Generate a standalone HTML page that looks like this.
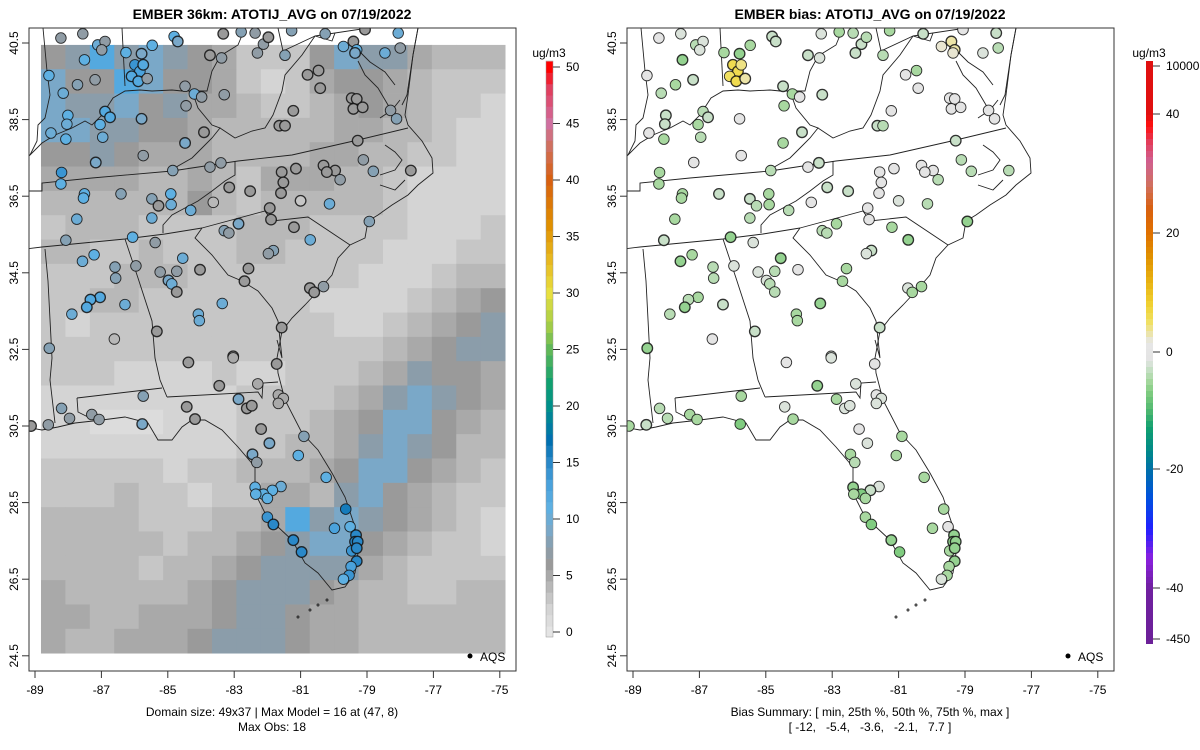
<!DOCTYPE html>
<html><head><meta charset="utf-8"><style>
html,body{margin:0;padding:0;background:#fff;}
svg{display:block;font-family:"Liberation Sans",sans-serif;}
</style></head><body>
<svg id="chart" width="1200" height="750" viewBox="0 0 1200 750">
<defs>
<clipPath id="clipL"><rect x="29" y="28" width="487" height="643"/></clipPath>
<clipPath id="clipR"><rect x="627" y="28" width="487" height="643"/></clipPath>
</defs>
<rect width="1200" height="750" fill="#fff"/>
<g id="panelL"></g>
<g id="panelR"></g>
</svg>
<script>
// ---------- data ----------
const gridRows = [
"6797876533368775444","8669866532356654333","8778675543345654332","8877665444445544322",
"6676555444455443322","5555445435554432222","4444446434444432222","3444333344433332223",
"4433433344333322233","3334443333333222344","3344333333322223456","3233333333332234567",
"3333333333333345677","3332222322333457665","2222222233334578765","2211122233345688654",
"2222222233445787644","3333323344456886543","3334332335547865433","4444333445978765432",
"4444434456788654332","4444344567777543333","5444445677765443344","5544555677655444444",
"5445556777655444444"];
const levelValues = [0,1,2,3,4,5,6,7.5,9,12];
const xTicks = [-89,-87,-85,-83,-81,-79,-77,-75];
const yTicks = [40.5,38.5,36.5,34.5,32.5,30.5,28.5,26.5,24.5];
const obsTicks = [0,5,10,15,20,25,30,35,40,45,50];
const biasTickLabels = ["10000","40","20","0","-20","-40","-450"];
const biasTickVals = [10000,40,20,0,-20,-40,-450];
const siteLon = [-88.22,-87.56,-87.11,-86.89,-86.99,-87.51,-86.26,-85.79,-85.47,-84.81,-84.70,-85.99,-85.84,-86.09,-85.89,-85.62,-85.74,-88.58,-87.72,-87.19,-88.15,-88.01,-88.04,-86.89,-86.74,-87.04,-88.52,-88.07,-86.96,-85.79,-84.48,-84.20,-83.98,-84.45,-83.30,-83.73,-83.38,-83.33,-82.79,-82.37,-82.12,-82.30,-81.97,-81.47,-81.27,-80.26,-80.79,-80.46,-80.41,-81.22,-81.64,-81.47,-79.41,-79.31,-79.36,-79.71,-79.06,-78.46,-78.00,-78.06,-79.46,-79.31,-79.41,-79.13,-78.29,-78.11,-83.91,-84.48,-85.74,-87.17,-88.20,-88.22,-87.51,-87.54,-86.41,-84.85,-83.73,-83.40,-79.28,-79.11,-78.81,-77.68,-81.57,-81.14,-81.52,-80.31,-79.96,-79.81,-80.21,-81.59,-81.00,-80.13,-82.52,-83.15,-83.63,-84.91,-84.90,-85.48,-85.28,-84.31,-85.48,-87.74,-86.06,-85.38,-88.07,-81.93,-81.89,-83.30,-83.16,-82.87,-81.20,-80.71,-81.82,-81.97,-78.93,-87.22,-87.57,-86.59,-86.57,-85.96,-84.55,-84.73,-85.23,-84.98,-84.88,-84.73,-84.03,-82.57,-82.69,-80.72,-80.59,-80.31,-87.04,-87.33,-87.44,-87.89,-86.29,-84.08,-84.05,-83.36,-81.57,-86.61,-85.33,-88.57,-83.03,
-84.38,-83.03,-81.72,-83.45,-82.29,-81.67,-81.52,-81.67,-85.74,-82.87,-82.62,-82.47,-84.43,-88.20,-87.96,-87.29,-87.07,-88.60,-89.12,-85.77,-84.18,-82.19,-81.94,-82.45,-82.32,-80.90,-81.07,-80.23,-81.59,-81.85,-82.37,-82.12,-82.35,-82.00,-82.00,-81.82,-81.22,-80.97,-79.64,-79.98,-79.51,-79.33,-79.36,-79.28,-79.46,-79.31,-79.31,-79.48,-79.54,-79.71];
const siteLat = [40.63,40.74,40.45,40.54,40.32,40.06,40.25,40.22,40.44,40.67,40.54,39.93,39.76,39.63,39.50,39.57,39.93,39.65,39.41,39.54,39.19,38.61,38.38,38.71,38.56,38.37,38.15,37.99,38.04,38.52,39.37,39.17,39.09,38.86,39.15,40.18,40.11,40.74,40.79,40.76,40.47,40.24,40.65,40.18,40.82,40.74,39.67,39.78,39.32,38.73,38.34,38.34,40.54,40.32,40.24,40.41,40.85,40.24,40.37,40.76,39.06,39.04,38.78,38.82,38.74,38.52,38.17,37.89,37.56,37.38,37.12,36.82,36.56,36.45,36.56,37.17,37.26,37.37,37.95,37.45,37.15,37.17,37.13,37.22,36.86,37.30,37.17,36.93,37.13,36.58,36.38,36.30,36.63,36.73,36.34,36.56,36.28,36.43,36.25,36.13,35.93,35.90,35.43,35.29,35.35,36.19,35.89,35.60,35.54,35.78,35.69,35.36,35.08,35.00,35.84,34.97,34.80,34.65,34.36,34.68,34.88,34.54,34.52,34.30,34.21,34.00,34.58,34.61,34.28,34.10,33.99,34.14,33.86,33.80,33.60,33.42,33.67,33.42,33.25,33.70,33.07,32.77,32.97,32.53,32.32,
32.16,32.28,32.12,31.55,31.60,31.31,31.22,31.09,31.28,31.20,30.96,31.03,31.00,30.96,30.70,30.80,30.67,30.53,30.50,30.55,30.68,30.42,30.05,29.76,29.55,30.23,29.73,29.16,28.92,28.82,28.90,28.72,28.72,28.61,28.12,27.93,27.52,27.21,28.33,27.83,27.87,27.65,27.48,27.48,27.24,27.31,26.97,26.83,26.60,26.50];
const siteObs = [7,7,10,7,7,11,11,9,11,11,9,14,13,12,12,7,12,11,8,7,10,11,10,12,12,11,10,11,10,9,7,10,7,7,7,6,7,6,8,7,7,7,6,8,8,8,6,6,6,6,6,6,6,11,9,10,6,10,7,10,6,6,6,6,7,8,6,9,7,9,14,11,11,11,8,8,7,7,6,7,8,6,6,6,6,6,6,7,6,6,3,10,6,6,4,11,10,8,6,10,10,10,11,7,8,6,6,8,7,9,6,10,8,7,8,11,10,8,8,7,10,7,7,9,10,6,6,6,6,6,6,7,12,12,12,10,10,10,10,10,6,4,6,8,6,
6,5,6,6,5,5,5,5,8,9,6,6,6,8,7,7,7,7,6,9,6,6,9,9,7,8,11,11,10,11,11,11,11,11,14,15,15,15,16,13,11,15,15,15,14,15,15,13,14,11];
const siteBias = [-1,-2,-4,-2,-2,-6,-5,-6,-5,-3,-3,6,6,5,6,3,4,-1,-5,-3,-4,-3,-3,-4,-3,-5,-1,-5,-4,-1,-3,-5,-1,-5,-3,-3,-2,-2,-5,-4,-3,-3,-4,-4,-5,-3,-1,-5,-1,-1,-3,-4,3,3,2,2,-1,-2,-4,-3,-1,-1,-1,-1,-1,-1,-3,-5,-1,-1,-5,-5,-5,-5,-3,-4,-1,-3,-3,-4,-4,-4,-1,-1,-1,-1,-1,-4,-1,-1,-2,-4,-3,-3,-1,-5,-5,-3,-4,-4,-4,-5,-6,-2,-3,-1,-1,-4,-4,-5,-5,-6,-3,-2,-6,-5,-6,-4,-4,-2,-6,-4,-2,-2,-4,-4,-1,-5,-5,-2,-5,-5,-5,-4,-6,-4,-3,-5,-5,-6,-3,-1,-3,-6,-2,
-1,-2,-1,-6,-2,-1,-2,-2,-5,-5,-2,-2,-2,-4,-4,-5,-5,-3,-5,-7,-5,-1,-2,-5,-4,-5,-5,-5,-2,-3,-6,-7,-5,-5,-5,-7,-6,-7,-5,-5,-1,-6,-6,-6,-5,-6,-6,-5,-5,-2];

// ---------- scales ----------
const xL = lon => 35 + (lon + 89) * 33.2;
const yL = lat => 43 + (40.5 - lat) * 38.3;
const gridLon0 = -88.82, gridLon1 = -74.84, gridLat0 = 40.45, gridLat1 = 24.57;

function lerpHex(a,b,t){
  const pa=[1,3,5].map(i=>parseInt(a.substr(i,2),16)), pb=[1,3,5].map(i=>parseInt(b.substr(i,2),16));
  return 'rgb('+pa.map((v,i)=>Math.round(v+(pb[i]-v)*t)).join(',')+')';
}
function ramp(stops, v){
  if(v<=stops[0][0]) return stops[0][1];
  for(let i=1;i<stops.length;i++){ if(v<=stops[i][0]){const t=(v-stops[i-1][0])/(stops[i][0]-stops[i-1][0]);return lerpHex(stops[i-1][1],stops[i][1],t);} }
  return stops[stops.length-1][1];
}
const obsStops=[[0,"#e4e4e4"],[2,"#d4d4d4"],[4,"#b8b8b8"],[6,"#9a9a9a"],[7.5,"#8b9daa"],[9,"#7aa8c8"],[11,"#5eb0e2"],[13,"#4aa2dc"],[15,"#2a88c8"],[17,"#0070b0"],[20,"#00908a"],[22,"#10a070"],[25,"#60b858"],[27,"#a0cc48"],[30,"#e8e040"],[33,"#e8b820"],[36,"#e09000"],[40,"#d86010"],[43,"#d07060"],[45,"#d070a0"],[48,"#e04060"],[50,"#ff0000"]];
const biasStops=[[-450,"#602080"],[-40,"#7020a0"],[-35,"#8a20e0"],[-30,"#2020ff"],[-25,"#0050e0"],[-20,"#0070a8"],[-17,"#00888a"],[-13,"#10a070"],[-10,"#50b870"],[-7,"#80cc80"],[-5,"#a8d8a0"],[-3,"#c8e0c8"],[-1.5,"#e4e4e4"],[1.5,"#e6e6e6"],[3,"#ece4a8"],[5,"#f0e060"],[8,"#f0d030"],[12,"#e8b010"],[16,"#e09000"],[20,"#e07000"],[24,"#d86010"],[28,"#d07060"],[32,"#d06090"],[35,"#e04060"],[38,"#ff1010"],[40,"#e01010"],[10000,"#a02020"]];
const obsColor = v => ramp(obsStops, v);
const biasColor = v => ramp(biasStops, v);

const NS="http://www.w3.org/2000/svg";
function mk(tag, attrs, parent){const e=document.createElementNS(NS,tag);for(const k in attrs)e.setAttribute(k,attrs[k]);parent.appendChild(e);return e;}

// geography (pixel polylines in panel coordinates)
const borders = [
 [[43,28],[47,71],[50,95],[45,118],[38,125],[37,141],[30,155],[25,160]],
 [[122,28],[125,86]],
 [[30,155],[42,143],[55,135],[72,128],[85,121],[92,125],[102,115],[113,98],[125,91],[140,90],[152,91],[172,90],[182,91],[192,91],[207,91],[212,71],[218,60],[225,53],[238,45],[245,28]],
 [[192,91],[198,108],[212,125],[220,128],[212,138],[202,148],[192,158],[178,166],[172,170]],
 [[220,128],[235,138],[252,131],[265,128],[273,115],[282,91],[285,75],[302,55],[315,36],[332,41],[335,33]],
 [[278,28],[283,51],[315,36]],[[315,36],[368,28]],
 [[25,191],[42,191],[42,183],[92,178],[172,171],[238,161],[292,155],[358,140],[408,128]],
 [[235,161],[235,175],[225,181],[212,191],[198,201],[185,208],[172,215],[163,225],[163,233]],
 [[25,249],[42,247],[125,239],[165,234],[202,228]],
 [[202,228],[265,211],[272,221],[308,217],[350,245]],
 [[202,228],[195,238],[212,255],[228,275],[242,281],[258,291],[272,308],[278,321],[282,358],[277,340]],
 [[45,249],[48,281],[52,358],[50,380],[55,423]],
 [[125,239],[138,278],[152,321],[155,358],[160,380],[167,397]],
 [[167,397],[258,392],[262,398],[263,383],[278,382]],
 [[77,398],[162,388]],[[77,398],[78,412],[88,417]],
 [[358,61],[365,75],[378,88],[388,105],[392,115],[402,118]],
 [[358,50],[370,62],[385,72],[395,85]],[[380,118],[392,110],[400,100]],
 [[418,28],[413,55],[407,95],[402,105]],[[385,145],[395,152],[402,160],[395,170],[380,175]],
 [[380,185],[395,190],[405,180]]
];
const coast = [[418,28],[413,55],[408,95],[405,115],[408,125],[422,141],[432,158],[433,173],[418,185],[408,195],[392,205],[378,215],[368,221],[365,238],[350,245],[338,258],[332,275],[318,291],[305,305],[292,318],[282,331],[277,358],[278,373],[285,400],[302,433],[318,450],[332,473],[345,497],[355,527],[358,553],[355,573],[345,587],[332,590],[318,573],[305,563],[292,540],[278,527],[265,513],[255,493],[255,467],[238,447],[222,430],[205,420],[192,420],[182,427],[172,440],[158,440],[148,423],[125,417],[102,420],[75,423],[58,427],[42,430],[25,427]];
const keys = [[298,617],[310,610],[318,605],[327,600]];

function drawPanel(g, ox, clipId, isBias){
  const inner = mk('g',{'clip-path':'url(#'+clipId+')'},g);
  if(!isBias){
    const rg = mk('g',{},inner);
    
    
    const nr=gridRows.length, nc=gridRows[0].length;
    const dLon=(gridLon1-gridLon0)/nc, dLat=(gridLat0-gridLat1)/nr;
    for(let r=0;r<nr;r++)for(let c=0;c<nc;c++){
      const v=levelValues[+gridRows[r][c]];
      const x0=xL(gridLon0+c*dLon), x1=xL(gridLon0+(c+1)*dLon), y0=yL(gridLat0-r*dLat), y1=yL(gridLat0-(r+1)*dLat);
      const cell = mk('rect',{x:x0,y:y0,width:x1-x0+0.4,height:y1-y0+0.4,fill:obsColor(v)},rg);
      
      
    }
  }
  const geo = mk('g',{transform:'translate('+ox+',0)',fill:'none',stroke:'#222','stroke-width':'0.9'},inner);
  
  
  borders.forEach(b=>mk('polyline',{points:b.map(p=>p.join(',')).join(' ')},geo));
  mk('polyline',{points:coast.map(p=>p.join(',')).join(' ')},geo);
  keys.forEach(p=>mk('circle',{cx:p[0],cy:p[1],r:1},geo));
  const sg = mk('g',{},inner);
  
  
  for(let i=0;i<siteLon.length;i++){
    const v = isBias?siteBias[i]:siteObs[i];
    const c = mk('circle',{cx:xL(siteLon[i])+ox,cy:yL(siteLat[i]),r:5.3,fill:isBias?biasColor(v):obsColor(v),stroke:'#111','stroke-width':(Math.abs(v)%3===0?1.3:0.9),'stroke-opacity':0.85},sg);
    
    
  }
  const fr = mk('rect',{x:29+ox,y:28,width:487,height:643,fill:'none',stroke:'#333','stroke-width':1},g);
  
  
  const ax = mk('g',{fill:'#000','font-size':'12'},g);
  
  
  xTicks.forEach(t=>{const x=xL(t)+ox;mk('line',{x1:x,x2:x,y1:671,y2:678,stroke:'#333'},ax);const tx=mk('text',{x:x,y:694,'text-anchor':'middle'},ax);tx.textContent=t;});
  const ay = mk('g',{fill:'#000','font-size':'12'},g);
  
  
  yTicks.forEach(t=>{const y=yL(t);mk('line',{x1:22+ox,x2:29+ox,y1:y,y2:y,stroke:'#333'},ay);const tx=mk('text',{x:18+ox,y:y,'text-anchor':'middle',transform:'rotate(-90 '+(18+ox)+' '+y+')'},ay);tx.textContent=t.toFixed(1);});
  const lg = mk('g',{},g);
  
  
  mk('circle',{cx:470+ox,cy:656,r:2.5,fill:'#000'},lg);
  const lt=mk('text',{x:480+ox,y:661,'font-size':'12'},lg);lt.textContent='AQS';
}

const pL=document.getElementById('panelL'), pR=document.getElementById('panelR');
drawPanel(pL,0,'clipL',false);
drawPanel(pR,598,'clipR',true);

function txt(parent,x,y,s,attrs,name){const t=mk('text',Object.assign({x:x,y:y,'text-anchor':'middle'},attrs||{}),parent);t.textContent=s;return t;}
txt(pL,272,19,'EMBER 36km: ATOTIJ_AVG on 07/19/2022',{'font-size':'14','font-weight':'bold'},'left-title');
txt(pR,870,19,'EMBER bias: ATOTIJ_AVG on 07/19/2022',{'font-size':'14','font-weight':'bold'},'right-title');
txt(pL,272,716,'Domain size: 49x37 | Max Model = 16 at (47, 8)',{'font-size':'12'},'domain-note');
txt(pL,272,731,'Max Obs: 18',{'font-size':'12'},'max-obs-note');
txt(pR,870,716,'Bias Summary: [ min, 25th %, 50th %, 75th %, max ]',{'font-size':'12'},'bias-summary-header');
txt(pR,870,731,'[ -12,   -5.4,   -3.6,   -2.1,   7.7 ]',{'font-size':'12','style':'white-space:pre'},'bias-summary-values');

const cbL = mk('g',{},pL);


const cbTop=61, cbBot=637, y50=67, y0=632;
const vY = v => y0 - (v/50)*(y0-y50);
for(let v=-0.5; v<50.5; v+=1){
  const a=Math.max(cbTop,vY(v+1)), b=Math.min(cbBot,vY(v));
  mk('rect',{x:546,y:a,width:7,height:b-a+0.3,fill:obsColor(Math.max(0,v+0.5))},cbL);
}
mk('rect',{x:546,y:cbTop,width:7,height:cbBot-cbTop,fill:'none',stroke:'#999','stroke-width':0.5},cbL);
txt(cbL,549,57,'ug/m3',{'font-size':'12'},'obs-colorbar-unit');
obsTicks.forEach(t=>{const y=vY(t);mk('line',{x1:553,x2:560,y1:y,y2:y,stroke:'#333'},cbL);const tt=mk('text',{x:566,y:y+4,'font-size':'12'},cbL);tt.textContent=t;});

const cbR = mk('g',{},pR);


const bPos=[66,114,233,352,469,588,639];
function bY(v){
  for(let i=0;i<biasTickVals.length-1;i++){const a=biasTickVals[i],b=biasTickVals[i+1];if(v<=a&&v>=b)return bPos[i]+(a-v)/(a-b)*(bPos[i+1]-bPos[i]);}
  return v>0?bPos[0]:bPos[6];
}
const rTop=61, rBot=644;
for(let y=rTop;y<rBot;y+=6){
  const mid=y+3; let v;
  if(mid<bPos[1]) v=40+(bPos[1]-mid)/(bPos[1]-bPos[0])*60;
  else if(mid>bPos[5]) v=-40-(mid-bPos[5])*2;
  else v=40-(mid-bPos[1])/(bPos[5]-bPos[1])*80;
  mk('rect',{x:1146,y:y,width:7,height:Math.min(6.3,rBot-y),fill:biasColor(v)},cbR);
}
txt(cbR,1149,57,'ug/m3',{'font-size':'12'},'bias-colorbar-unit');
biasTickVals.forEach((t,i)=>{const y=bY(t);mk('line',{x1:1153,x2:1160,y1:y,y2:y,stroke:'#333'},cbR);const tt=mk('text',{x:1166,y:y+4,'font-size':'12'},cbR);tt.textContent=biasTickLabels[i];});
</script>
</body></html>
